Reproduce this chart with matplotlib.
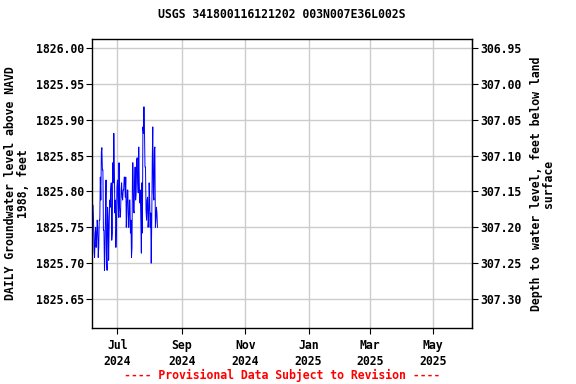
import matplotlib
matplotlib.use("Agg")
import matplotlib.pyplot as plt
import matplotlib.dates as mdates
import numpy as np
import datetime as dt

title = "USGS 341800116121202 003N007E36L002S"
start_date = dt.datetime(2024, 6, 7)
# daily high / low water level (ft above NAVD 1988)
level_hi = [1825.781, 1825.756, 1825.742, 1825.750, 1825.760, 1825.750, 1825.760, 1825.820,
            1825.855, 1825.861, 1825.830, 1825.746, 1825.774, 1825.816, 1825.778, 1825.764,
            1825.788, 1825.802, 1825.812, 1825.840, 1825.881, 1825.834, 1825.788, 1825.806,
            1825.816, 1825.840, 1825.778, 1825.802, 1825.812, 1825.802, 1825.820, 1825.820,
            1825.820, 1825.802, 1825.802, 1825.788, 1825.788, 1825.760, 1825.840, 1825.840,
            1825.812, 1825.834, 1825.844, 1825.847, 1825.862, 1825.812, 1825.802, 1825.812,
            1825.890, 1825.918, 1825.886, 1825.834, 1825.788, 1825.792, 1825.812, 1825.788,
            1825.770, 1825.844, 1825.890, 1825.858, 1825.862, 1825.778, 1825.770]
level_lo = [1825.756, 1825.716, 1825.708, 1825.722, 1825.736, 1825.708, 1825.722, 1825.760,
            1825.788, 1825.830, 1825.746, 1825.690, 1825.718, 1825.708, 1825.690, 1825.704,
            1825.750, 1825.778, 1825.732, 1825.742, 1825.812, 1825.770, 1825.722, 1825.750,
            1825.788, 1825.764, 1825.764, 1825.770, 1825.792, 1825.788, 1825.802, 1825.792,
            1825.750, 1825.774, 1825.750, 1825.750, 1825.742, 1825.708, 1825.722, 1825.774,
            1825.770, 1825.788, 1825.798, 1825.812, 1825.798, 1825.784, 1825.760, 1825.714,
            1825.742, 1825.881, 1825.834, 1825.774, 1825.760, 1825.750, 1825.760, 1825.750,
            1825.700, 1825.756, 1825.798, 1825.788, 1825.750, 1825.760, 1825.750]
datum_offset = 2132.95  # depth = offset - level
left_ticks = [1825.65, 1825.70, 1825.75, 1825.80, 1825.85, 1825.90, 1825.95, 1826.00]
right_ticks = [306.95, 307.00, 307.05, 307.10, 307.15, 307.20, 307.25, 307.30]
xtick_dates = [dt.datetime(2024, 7, 1), dt.datetime(2024, 9, 1), dt.datetime(2024, 11, 1),
               dt.datetime(2025, 1, 1), dt.datetime(2025, 3, 1), dt.datetime(2025, 5, 1)]
xtick_labels = ["Jul\n2024", "Sep\n2024", "Nov\n2024", "Jan\n2025", "Mar\n2025", "May\n2025"]

# build a path that goes through each day's high and low
times, vals = [], []
prev = None
for i, (h, l) in enumerate(zip(level_hi, level_lo)):
    t0 = start_date + dt.timedelta(days=i)
    t1 = t0 + dt.timedelta(hours=12)
    if prev is None or abs(prev - l) < abs(prev - h):
        seq = (l, h)
    else:
        seq = (h, l)
    times += [t0, t1]
    vals += list(seq)
    prev = seq[1]

plt.rcParams['font.family'] = ['DejaVu Sans Mono']
plt.rcParams['font.weight'] = 'bold'
fs = 8.3

fig = plt.figure(figsize=(5.76, 3.84), dpi=100)
ax = fig.add_axes([92/576, 1-328/384, 380/576, 289/384])
ax.plot(times, vals, color='#0000ff', lw=0.7)

ax.set_xlim(dt.datetime(2024, 6, 6, 12), dt.datetime(2025, 6, 7, 6))
ax.set_ylim(1825.6096, 1826.0126)
ax.set_yticks(left_ticks)
ax.set_yticklabels([f"{v:.2f}" for v in left_ticks], fontsize=fs, fontweight='bold')
ax.set_xticks([mdates.date2num(d) for d in xtick_dates])
ax.set_xticklabels(xtick_labels, fontsize=fs, fontweight='bold', linespacing=1.25)
ax.grid(True, color='#cccccc', lw=1)
ax.set_axisbelow(True)
ax.tick_params(axis='y', direction='out', length=4, width=0.8, pad=2)
ax.tick_params(axis='x', direction='out', length=4, width=0.8, pad=4)
for s in ax.spines.values():
    s.set_linewidth(1)

sec = ax.secondary_yaxis('right', functions=(lambda x: datum_offset - x, lambda x: datum_offset - x))
sec.set_yticks(right_ticks)
sec.set_yticklabels([f"{v:.2f}" for v in right_ticks], fontsize=fs, fontweight='bold')
sec.tick_params(direction='out', length=4, width=0.8, pad=2)

ax.set_ylabel("DAILY Groundwater level above NAVD\n1988, feet", fontsize=fs, fontweight='bold',
              linespacing=0.95, labelpad=4)
sec.set_ylabel("Depth to water level, feet below land\nsurface", fontsize=fs, fontweight='bold',
               linespacing=0.95, labelpad=6)
ax.set_title(title, fontsize=fs, fontweight='bold', pad=15)
fig.text((92 + 472) / 2 / 576, 1 - 375/384, "---- Provisional Data Subject to Revision ----",
         color='red', fontsize=fs, fontweight='bold', ha='center', va='center')

fig.savefig("out.png", dpi=100)
